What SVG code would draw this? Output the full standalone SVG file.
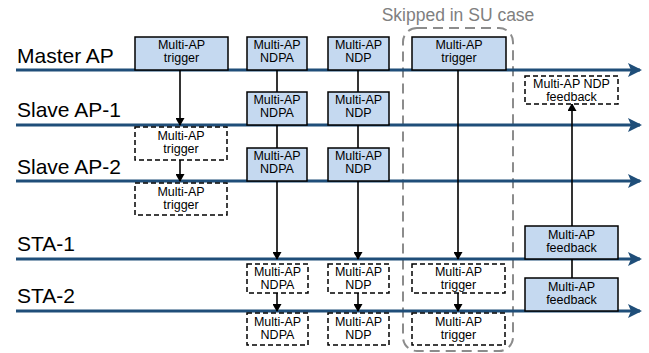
<svg xmlns="http://www.w3.org/2000/svg" width="649" height="353" viewBox="0 0 649 353">
<defs>
<marker id="ah" markerWidth="8" markerHeight="9" refX="7" refY="4.5" orient="auto" markerUnits="userSpaceOnUse"><path d="M0,0 L8,4.5 L0,9 z" fill="#000"/></marker>
<marker id="bh" markerWidth="14" markerHeight="14" refX="12" refY="7" orient="auto" markerUnits="userSpaceOnUse"><path d="M0,0 L14,7 L0,14 L3,7 z" fill="#1F4E79"/></marker>
<style>
.tl{stroke:#1F4E79;stroke-width:3;fill:none}
.lab{font-family:"Liberation Sans",Arial,sans-serif;font-size:21px;fill:#000}
.box{fill:#C5D9F0;stroke:#000;stroke-width:1.5}
.dbox{fill:#fff;stroke:#000;stroke-width:1.5;stroke-dasharray:5,3}
.t{font-family:"Liberation Sans",Arial,sans-serif;font-size:12.5px;fill:#000;text-anchor:middle}
.c{stroke:#000;stroke-width:1.6;fill:none}
.ca{stroke:#000;stroke-width:1.6;fill:none;marker-end:url(#ah)}
</style>
</defs>
<g id="skip">
<rect x="403" y="28" width="110" height="323" rx="14" fill="none" stroke="#8C8C8C" stroke-width="2" stroke-dasharray="10,6"/>
<text x="458" y="21" font-family="Liberation Sans,Arial,sans-serif" font-size="17.5" fill="#808080" text-anchor="middle">Skipped in SU case</text>
</g>
<g id="timelines">
<line class="tl" x1="16" y1="70" x2="640" y2="70" marker-end="url(#bh)"/>
<line class="tl" x1="16" y1="125" x2="640" y2="125" marker-end="url(#bh)"/>
<line class="tl" x1="16" y1="181" x2="640" y2="181" marker-end="url(#bh)"/>
<line class="tl" x1="16" y1="259" x2="640" y2="259" marker-end="url(#bh)"/>
<line class="tl" x1="16" y1="311" x2="640" y2="311" marker-end="url(#bh)"/>
<text class="lab" x="17" y="63">Master AP</text>
<text class="lab" x="17" y="117">Slave AP-1</text>
<text class="lab" x="17" y="174">Slave AP-2</text>
<text class="lab" x="17" y="251">STA-1</text>
<text class="lab" x="17" y="303">STA-2</text>
</g>
<g id="connectors">
<line class="ca" x1="180" y1="70" x2="180" y2="125"/>
<line class="ca" x1="180" y1="160" x2="180" y2="181"/>
<line class="ca" x1="277" y1="70" x2="277" y2="259"/>
<line class="ca" x1="277" y1="293" x2="277" y2="311"/>
<line class="ca" x1="358" y1="70" x2="358" y2="259"/>
<line class="ca" x1="358" y1="293" x2="358" y2="311"/>
<line class="ca" x1="458" y1="70" x2="458" y2="259"/>
<line class="ca" x1="458" y1="293" x2="458" y2="311"/>
<line class="c" x1="572" y1="259" x2="572" y2="278"/>
<line class="ca" x1="572" y1="226" x2="572" y2="104"/>
</g>
<g id="m-trigger"><rect class="box" x="135" y="37" width="93" height="33"/><text class="t" x="181.5" y="49">Multi-AP</text><text class="t" x="181.5" y="62">trigger</text></g>
<g id="m-ndpa"><rect class="box" x="247" y="37" width="60" height="33"/><text class="t" x="277" y="49">Multi-AP</text><text class="t" x="277" y="62">NDPA</text></g>
<g id="m-ndp"><rect class="box" x="328" y="37" width="61" height="33"/><text class="t" x="358.5" y="49">Multi-AP</text><text class="t" x="358.5" y="62">NDP</text></g>
<g id="m-su-trigger"><rect class="box" x="412" y="37" width="94" height="33"/><text class="t" x="459" y="49">Multi-AP</text><text class="t" x="459" y="62">trigger</text></g>
<g id="s1-ndpa"><rect class="box" x="247" y="92" width="60" height="33"/><text class="t" x="277" y="104">Multi-AP</text><text class="t" x="277" y="117">NDPA</text></g>
<g id="s1-ndp"><rect class="box" x="328" y="92" width="61" height="33"/><text class="t" x="358.5" y="104">Multi-AP</text><text class="t" x="358.5" y="117">NDP</text></g>
<g id="s2-ndpa"><rect class="box" x="247" y="148" width="60" height="33"/><text class="t" x="277" y="160">Multi-AP</text><text class="t" x="277" y="173">NDPA</text></g>
<g id="s2-ndp"><rect class="box" x="328" y="148" width="61" height="33"/><text class="t" x="358.5" y="160">Multi-AP</text><text class="t" x="358.5" y="173">NDP</text></g>
<g id="s1-trigger"><rect class="dbox" x="135" y="127" width="92" height="33"/><text class="t" x="181" y="140">Multi-AP</text><text class="t" x="181" y="153">trigger</text></g>
<g id="s2-trigger"><rect class="dbox" x="135" y="183" width="92" height="32"/><text class="t" x="181" y="196">Multi-AP</text><text class="t" x="181" y="209">trigger</text></g>
<g id="m-ndp-feedback"><rect class="dbox" x="525" y="76" width="93" height="28"/><text class="t" x="571.5" y="88">Multi-AP NDP</text><text class="t" x="571.5" y="101">feedback</text></g>
<g id="sta1-ndpa"><rect class="dbox" x="247" y="264" width="61" height="29"/><text class="t" x="277.5" y="276">Multi-AP</text><text class="t" x="277.5" y="289">NDPA</text></g>
<g id="sta2-ndpa"><rect class="dbox" x="247" y="313" width="61" height="32"/><text class="t" x="277.5" y="326">Multi-AP</text><text class="t" x="277.5" y="339">NDPA</text></g>
<g id="sta1-ndp"><rect class="dbox" x="328" y="264" width="61" height="29"/><text class="t" x="358.5" y="276">Multi-AP</text><text class="t" x="358.5" y="289">NDP</text></g>
<g id="sta2-ndp"><rect class="dbox" x="328" y="313" width="61" height="32"/><text class="t" x="358.5" y="326">Multi-AP</text><text class="t" x="358.5" y="339">NDP</text></g>
<g id="sta1-trigger"><rect class="dbox" x="412" y="264" width="93" height="29"/><text class="t" x="458.5" y="276">Multi-AP</text><text class="t" x="458.5" y="289">trigger</text></g>
<g id="sta2-trigger"><rect class="dbox" x="412" y="313" width="93" height="32"/><text class="t" x="458.5" y="326">Multi-AP</text><text class="t" x="458.5" y="339">trigger</text></g>
<g id="sta1-feedback"><rect class="box" x="525" y="226" width="93" height="33"/><text class="t" x="571.5" y="239">Multi-AP</text><text class="t" x="571.5" y="252">feedback</text></g>
<g id="sta2-feedback"><rect class="box" x="525" y="278" width="93" height="33"/><text class="t" x="571.5" y="291">Multi-AP</text><text class="t" x="571.5" y="304">feedback</text></g>
</svg>
